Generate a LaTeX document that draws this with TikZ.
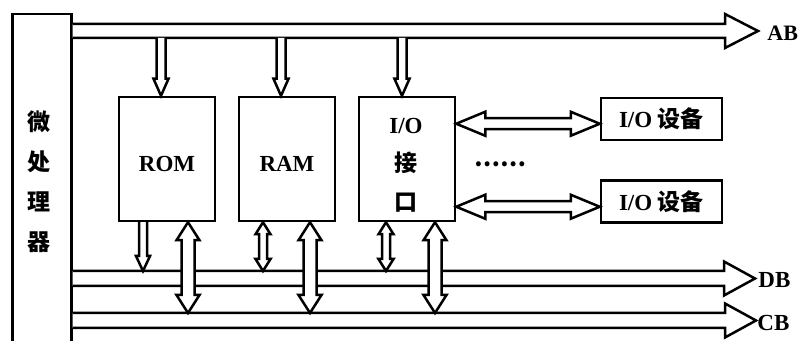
\documentclass[tikz,border=0pt]{standalone}
\usepackage{fontspec}
\setmainfont{Liberation Serif}
\newfontfamily\cjk{Noto Sans CJK SC}
\usetikzlibrary{calc}

\tikzset{
  box/.style={draw, line width=1.25pt, inner sep=0pt, font=\fontsize{11.5}{14}\selectfont\bfseries},
  memory/.style={box, minimum width=48pt, minimum height=62pt},
  device/.style={box, minimum width=60.5pt, minimum height=21pt},
  fat/.style={draw, line width=1.25pt, fill=white, line join=miter},
  % hollow arrows: #1 half shaft, #2 half head, #3 head length
  fat bus/.style n args={3}{to path={
      ($(\tikztostart)+(0,-#1)$) -- ($(\tikztotarget)+(-#3,-#1)$)
      -- ($(\tikztotarget)+(-#3,-#2)$) -- (\tikztotarget)
      -- ($(\tikztotarget)+(-#3,#2)$) -- ($(\tikztotarget)+(-#3,#1)$)
      -- ($(\tikztostart)+(0,#1)$)}},
  fat down/.style n args={3}{to path={
      ($(\tikztostart)+(-#1,0)$) -- ($(\tikztotarget)+(-#1,-#3)$)
      -- ($(\tikztotarget)+(-#2,-#3)$) -- (\tikztotarget)
      -- ($(\tikztotarget)+(#2,-#3)$) -- ($(\tikztotarget)+(#1,-#3)$)
      -- ($(\tikztostart)+(#1,0)$)}},
  fat updown/.style n args={3}{to path={
      (\tikztostart) -- ($(\tikztostart)+(#2,#3)$) -- ($(\tikztostart)+(#1,#3)$)
      -- ($(\tikztotarget)+(#1,-#3)$) -- ($(\tikztotarget)+(#2,-#3)$) -- (\tikztotarget)
      -- ($(\tikztotarget)+(-#2,-#3)$) -- ($(\tikztotarget)+(-#1,-#3)$)
      -- ($(\tikztostart)+(-#1,#3)$) -- ($(\tikztostart)+(-#2,#3)$) -- cycle}},
  fat leftright/.style n args={3}{to path={
      (\tikztostart) -- ($(\tikztostart)+(#3,-#2)$) -- ($(\tikztostart)+(#3,-#1)$)
      -- ($(\tikztotarget)+(-#3,-#1)$) -- ($(\tikztotarget)+(-#3,-#2)$) -- (\tikztotarget)
      -- ($(\tikztotarget)+(-#3,#2)$) -- ($(\tikztotarget)+(-#3,#1)$)
      -- ($(\tikztostart)+(#3,#1)$) -- ($(\tikztostart)+(#3,#2)$) -- cycle}},
}

\begin{document}
\begin{tikzpicture}[x=0.5pt, y=-0.5pt]
    \useasboundingbox (0,0) rectangle (799,341);
    \clip (0,0) rectangle (799,341);

    % processor (runs off the bottom)
    \node[box, anchor=north west, minimum width=29.5pt, minimum height=175pt] (cpu) at (11,13) {};
    \node[font=\cjk\bfseries\fontsize{11.5}{20}\selectfont, align=center] (cpuname) at (39,182) {微\\处\\理\\器};

    \node[memory, text height=13pt, text depth=0pt] (rom) at (167,159) {ROM};
    \node[memory, text height=13pt, text depth=0pt] (ram) at (287,159) {RAM};
    \node[memory] (io) at (407,159) {};
    \node[align=center, font=\fontsize{11.5}{19.25}\selectfont\bfseries] (ioname) at (406,165) {I/O\\{\cjk 接}\\{\cjk 口}};

    \node[device] (dev1) at (661.5,119) {I/O {\cjk 设备}};
    \node[device] (dev2) at (661.5,201.5) {I/O {\cjk 设备}};
    \node[font=\cjk\bfseries\fontsize{11.5}{14}\selectfont] (more) at (500,164) {……};

    % buses
    \coordinate (ab) at (cpu.north east |- 0,31);
    \coordinate (db) at (cpu.north east |- 0,278.5);
    \coordinate (cb) at (cpu.north east |- 0,320.5);
    \coordinate (abtip) at (758,31);
    \coordinate (dbtip) at (755,278.5);
    \coordinate (cbtip) at (756,320.5);
    \coordinate (abbot) at ($(ab)+(0,7)$);
    \coordinate (dbtop) at ($(db)+(0,-7.5)$);
    \coordinate (cbtop) at ($(cb)+(0,-7.5)$);

    \draw[fat] (ab) to[fat bus={7}{17}{33}] (abtip);
    \draw[fat] (db) to[fat bus={7.5}{17}{31}] (dbtip);
    \draw[fat] (cb) to[fat bus={7.5}{17}{31}] (cbtip);

    \node[font=\fontsize{11}{14}\selectfont\bfseries, anchor=west, inner sep=0pt] (ablabel) at (767,33.5) {AB};
    \node[font=\fontsize{11.5}{14}\selectfont\bfseries, anchor=west, inner sep=0pt] (dblabel) at (758,280) {DB};
    \node[font=\fontsize{11.5}{14}\selectfont\bfseries, anchor=west, inner sep=0pt] (cblabel) at (757,323) {CB};

    % address lines into the boxes
    \foreach \b/\dx in {rom/-6, ram/-6, io/-5} {
        \coordinate (in\b) at ($(\b.north)+(\dx,0)$);
        \draw[fat] (in\b |- abbot) to[fat down={4.5}{7.5}{17}] (in\b);
    }

    % data and control lines
    \foreach \b/\s/\l in {rom/-24/21, ram/-24/23, io/-21/28} {
        \coordinate (s\b) at ($(\b.south)+(\s,0)$);
        \coordinate (l\b) at ($(\b.south)+(\l,0)$);
        \draw[fat] (l\b) to[fat updown={6.5}{11.5}{18}] (l\b |- cbtop);
    }
    \draw[fat] (srom) to[fat down={4}{7}{15}] (srom |- dbtop);
    \draw[fat] (sram) to[fat updown={4}{7.5}{12}] (sram |- dbtop);
    \draw[fat] (sio) to[fat updown={4}{7.5}{12}] (sio |- dbtop);

    % interface to devices
    \coordinate (io1) at ($(io.north east)+(0,28)$);
    \coordinate (io2) at ($(io.north east)+(0,111)$);
    \draw[fat] (io1) to[fat leftright={5.5}{12}{29}] (io1 -| dev1.west);
    \draw[fat] (io2) to[fat leftright={5.5}{12}{29}] (io2 -| dev2.west);
\end{tikzpicture}
\end{document}
